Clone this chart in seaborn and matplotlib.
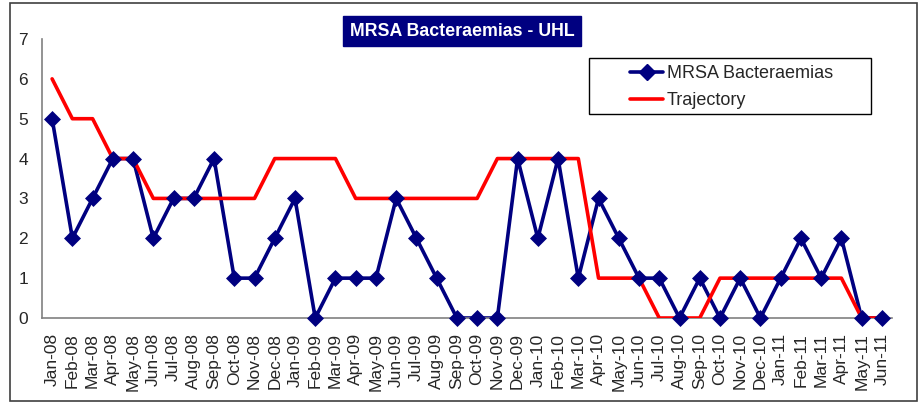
import numpy as np
import pandas as pd
import matplotlib
matplotlib.use('Agg')
import matplotlib.pyplot as plt
import matplotlib.patches as patches
from matplotlib.lines import Line2D
import seaborn as sns

months = ['Jan-08', 'Feb-08', 'Mar-08', 'Apr-08', 'May-08', 'Jun-08', 'Jul-08', 'Aug-08',
          'Sep-08', 'Oct-08', 'Nov-08', 'Dec-08', 'Jan-09', 'Feb-09', 'Mar-09', 'Apr-09',
          'May-09', 'Jun-09', 'Jul-09', 'Aug-09', 'Sep-09', 'Oct-09', 'Nov-09', 'Dec-09',
          'Jan-10', 'Feb-10', 'Mar-10', 'Apr-10', 'May-10', 'Jun-10', 'Jul-10', 'Aug-10',
          'Sep-10', 'Oct-10', 'Nov-10', 'Dec-10', 'Jan-11', 'Feb-11', 'Mar-11', 'Apr-11',
          'May-11', 'Jun-11']
mrsa = [5, 2, 3, 4, 4, 2, 3, 3, 4, 1, 1, 2, 3, 0, 1, 1, 1, 3, 2, 1, 0, 0, 0, 4,
        2, 4, 1, 3, 2, 1, 1, 0, 1, 0, 1, 0, 1, 2, 1, 2, 0, 0]
trajectory = [6, 5, 5, 4, 4, 3, 3, 3, 3, 3, 3, 4, 4, 4, 4, 3, 3, 3, 3, 3, 3, 3, 4, 4,
              4, 4, 4, 1, 1, 1, 0, 0, 0, 1, 1, 1, 1, 1, 1, 1, 0, 0]

df = pd.DataFrame({'pos': np.arange(len(months)), 'month': months,
                   'MRSA Bacteraemias': mrsa, 'Trajectory': trajectory})

sns.set_style('white')
plt.rcParams['font.family'] = ['Liberation Sans', 'DejaVu Sans']

navy = '#000080'
red = '#FF0000'
grey = '#808080'

fig = plt.figure(figsize=(9.18, 4.03), dpi=100)
ax = fig.add_axes([42 / 918, 1 - 318 / 403, 850 / 918, 279 / 403])

# lines first, red on top of the navy line, navy markers on top of everything
sns.lineplot(data=df, x='pos', y='MRSA Bacteraemias', ax=ax, color=navy, lw=2.6, zorder=2)
sns.lineplot(data=df, x='pos', y='Trajectory', ax=ax, color=red, lw=2.6, zorder=3)
sns.scatterplot(data=df, x='pos', y='MRSA Bacteraemias', ax=ax, color=navy, marker='D',
                s=75, edgecolor=navy, linewidth=0, zorder=4, clip_on=False)

ax.set_xlim(-0.5, len(months) - 0.5)
ax.set_ylim(0, 7)
ax.set_xlabel('')
ax.set_ylabel('')

ax.set_xticks(np.arange(len(months)))
ax.set_xticklabels(months, rotation=90, fontsize=12.5)
ax.set_xticks(np.arange(len(months) + 1) - 0.5, minor=True)
ax.tick_params(axis='x', which='major', length=0, pad=11)
ax.tick_params(axis='x', which='minor', length=5, width=1, color=grey, direction='out')
ax.set_yticks(range(8))
ax.tick_params(axis='y', which='major', length=5, width=1, color=grey, direction='out',
               labelsize=12.5, pad=5)

for s in ['top', 'right']:
    ax.spines[s].set_visible(False)
for s in ['left', 'bottom']:
    ax.spines[s].set_color(grey)
    ax.spines[s].set_linewidth(1.2)

# title box
fig.text(462 / 918, 1 - 31 / 403, 'MRSA Bacteraemias - UHL', ha='center', va='center',
         fontsize=12.8, fontweight='bold', color='white',
         bbox=dict(boxstyle='square,pad=0.38', facecolor=navy, edgecolor=navy))

# legend box
fig.patches.append(patches.Rectangle((589 / 918, 1 - 114 / 403), 282 / 918, 56 / 403,
                                     transform=fig.transFigure, fill=False,
                                     edgecolor='black', lw=1))
handles = [Line2D([], [], color=navy, lw=2.6, marker='D', ms=8),
           Line2D([], [], color=red, lw=2.6)]
fig.legend(handles, ['MRSA Bacteraemias', 'Trajectory'], loc='upper left',
           bbox_to_anchor=(630 / 918, 1 - 65 / 403), frameon=False, fontsize=13,
           borderpad=0, borderaxespad=0, handlelength=1.85, handletextpad=0.2,
           labelspacing=0.58)

# outer chart border
fig.patches.append(patches.Rectangle((10 / 918, 1 - 401 / 403), 907 / 918, 398 / 403,
                                     transform=fig.transFigure, fill=False,
                                     edgecolor='#404040', lw=1.2))

plt.savefig('out.png', dpi=100)
